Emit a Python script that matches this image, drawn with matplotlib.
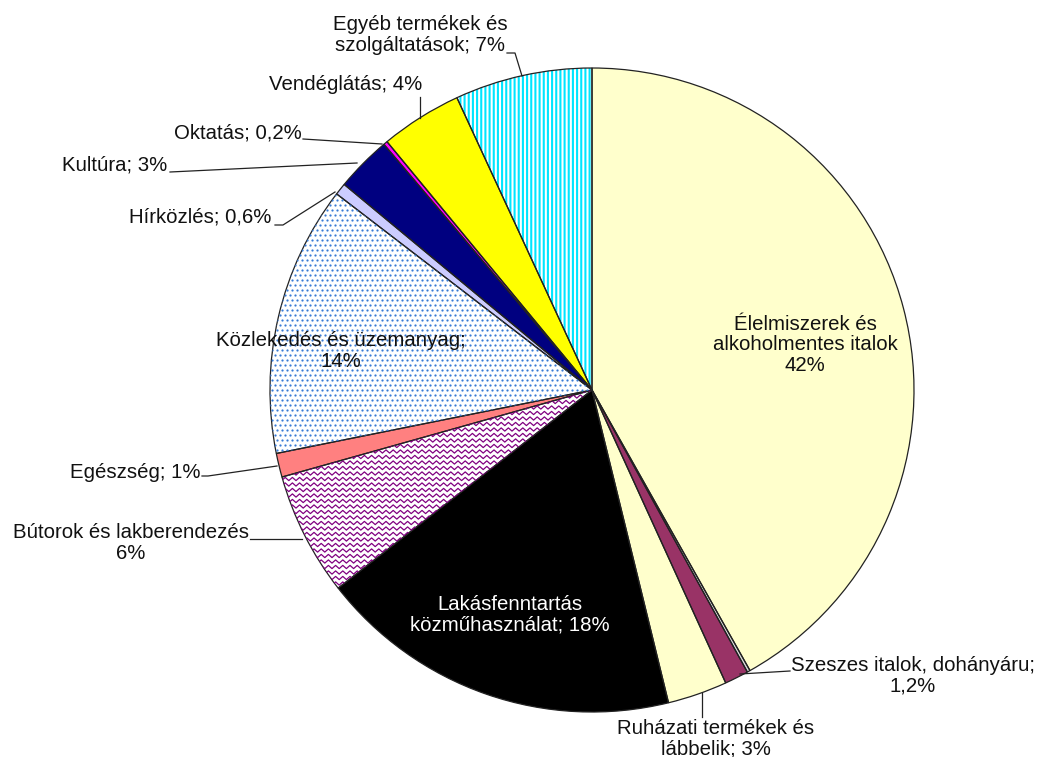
import numpy as np
import matplotlib
matplotlib.use('agg')
import matplotlib.pyplot as plt

plt.rcParams['font.family'] = ['Liberation Sans', 'DejaVu Sans']
plt.rcParams['hatch.linewidth'] = 1.5

# clockwise from 12 o'clock
categories = ["Élelmiszerek és\nalkoholmentes italok\n42%", "",
              "Szeszes italok, dohányáru;\n1,2%",
              "Ruházati termékek és\nlábbelik; 3%",
              "Lakásfenntartás\nközműhasználat; 18%",
              "Bútorok és lakberendezés\n6%",
              "Egészség; 1%",
              "Közlekedés és üzemanyag;\n14%",
              "Hírközlés; 0,6%",
              "Kultúra; 3%",
              "Oktatás; 0,2%",
              "Vendéglátás; 4%",
              "Egyéb termékek és\nszolgáltatások; 7%"]
shares = [41.9, 0.15, 1.2, 3.0, 18.3, 6.2, 1.2, 13.6, 0.6, 2.8, 0.2, 4.1, 6.9]
colors = ['#FFFFCC', '#D8D8D8', '#993366', '#FFFFCC', '#000000', 'white',
          '#FF8080', 'white', '#CCCCFF', '#000080', '#FF00FF', '#FFFF00', 'white']

W, H = 1039, 757


def P(x, y):
    # pixel (from top-left) -> data coords
    return x, H - y


fig = plt.figure(figsize=(W / 100, H / 100), dpi=100)
ax = fig.add_axes([0, 0, 1, 1])

center = P(592, 390)
radius = 322

wedges, _ = ax.pie(shares, colors=colors, startangle=90, counterclock=False,
                   center=center, radius=radius, frame=True,
                   wedgeprops=dict(linewidth=0))

# vertical stripes for the "other" slice
wedges[12].set_hatch('||||')
wedges[12].set_edgecolor('#00E5FF')

# small dots for transport slice
gx, gy = np.meshgrid(np.arange(262, 600, 5.0), np.arange(180, 470, 5.0))
gx[1::2] += 2.5
dots = ax.scatter(gx.ravel(), H - gy.ravel(), s=2.6, color='#3A7BD5',
                  linewidths=0, zorder=2)
dots.set_clip_path(wedges[7])

# wavy pattern for furniture slice
for yy in np.arange(380, 640, 5.5):
    xs = np.arange(260, 620, 3.6)
    ys = yy + 1.6 * (-1) ** np.arange(len(xs))
    ln, = ax.plot(xs, H - ys, color='#800080', lw=0.9)
    ln.set_clip_path(wedges[5])

# outlines
ax.pie(shares, startangle=90, counterclock=False, center=center, radius=radius,
       frame=True, wedgeprops=dict(fill=False, edgecolor='#222222', linewidth=0.9))
ax.set_xlim(0, W)
ax.set_ylim(0, H)
ax.set_aspect('equal')
ax.axis('off')

label_pos = {0: (805, 345), 2: (913, 676), 3: (716, 739), 4: (510, 615),
             5: (131, 543), 6: (135, 472), 7: (341, 351), 8: (200, 217),
             9: (115, 165), 10: (238, 133), 11: (346, 85), 12: (420, 35)}
for i, (px, py) in label_pos.items():
    ax.text(*P(px, py), categories[i], ha='center', va='center', fontsize=14.7,
            linespacing=1.12, color='white' if i == 4 else '#111111', zorder=5)

leaders = [
    [(507, 53), (515, 53), (522, 76)],
    [(420, 97), (420, 118)],
    [(303, 139), (382, 144)],
    [(170, 172), (357, 163)],
    [(275, 225), (283, 225), (335, 192)],
    [(202, 476), (208, 476), (277, 466)],
    [(250, 539), (302, 539)],
    [(702, 693), (702, 717)],
    [(740, 674), (790, 671)],
]
for seg in leaders:
    xs = [p[0] for p in seg]
    ys = [H - p[1] for p in seg]
    ax.plot(xs, ys, color='#222222', lw=0.9, zorder=4)

fig.savefig('out.png', dpi=100)
